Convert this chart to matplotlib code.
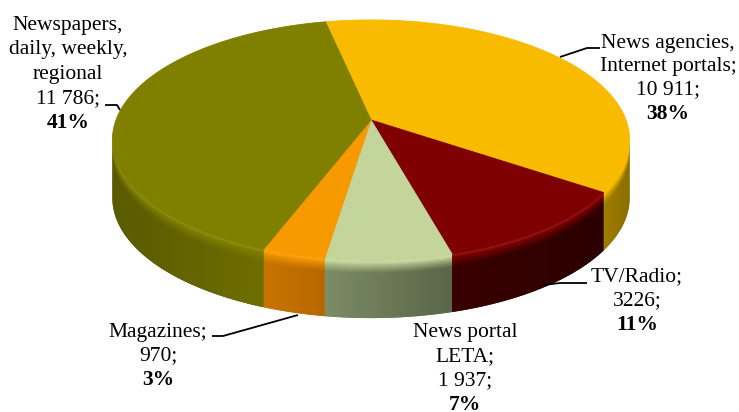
import numpy as np
import matplotlib
matplotlib.use("Agg")
import matplotlib.pyplot as plt
from matplotlib.colors import to_rgb

# ---- data (clockwise from the top of the pie) ----
names = ["News agencies,\nInternet portals;", "TV/Radio;", "News portal\nLETA;",
         "Magazines;", "Newspapers,\ndaily, weekly,\nregional"]
values = [10911, 3226, 1937, 970, 11786]
value_labels = ["10 911;", "3226;", "1 937;", "970;", "11 786;"]

# ---- styles ----
top_colors = ["#F8BB00", "#7F0000", "#C3D59A", "#F79900", "#808000"]
side_left = ["#A07E00", "#3A0000", "#7C8C66", "#C87400", "#5A5A00"]
side_right = ["#8C6E00", "#2C0000", "#5A6648", "#B66800", "#6E6E00"]

# label layout (pixel coords): centre x, first line centre y, line step
label_x = [668, 637, 465, 158, 68]
label_y0 = [43, 277, 332, 332, 25]
label_step = [23.5, 24, 24.5, 24, 24.5]
leaders = [[(560, 57), (587, 48), (600, 48)],
           [(543, 285), (560, 283), (587, 283)],
           None,
           [(298, 315), (223, 336), (212, 336)],
           [(105, 105), (117, 105), (120, 110)]]

W, H = 739, 412
fig = plt.figure(figsize=(W / 100, H / 100), dpi=100)
ax = fig.add_axes([0, 0, 1, 1])

# ---- perspective projection of the pie ----
cx, cy = 371, 120
sx, sy = 255, 248.7
elev = np.radians(28)
f = 5.3
depth = 58
start = -12.0


def proj(phi):
    r = np.radians(phi)
    u, v = np.sin(r), np.cos(r)
    k = f / (f + v * np.cos(elev))
    return cx + sx * u * k, cy - sy * v * np.sin(elev) * k


vals = np.array(values, dtype=float)
fracs = vals / vals.sum()
bounds = start + 360 * np.concatenate([[0], np.cumsum(fracs)])

grid = np.linspace(0, 360, 3601)
gx, _ = proj(grid)
phiR = grid[np.argmax(gx)]
phiL = grid[np.argmin(gx)]


def rgb(c):
    return np.array(to_rgb(c))


def lighten(c, a):
    c = rgb(c)
    return np.clip(c + (1 - c) * a, 0, 1)


# walls: gradient images clipped to each slice's wall polygon
for i in range(len(values)):
    a0, a1 = bounds[i], bounds[i + 1]
    lo, hi = max(a0, phiR), min(a1, phiL)
    if a0 + 360 < phiL:
        lo, hi = max(a0 + 360, phiR), min(a1 + 360, phiL)
    if hi <= lo:
        continue
    ph = np.linspace(lo, hi, 300)
    xs, ys = proj(ph)
    poly = list(zip(xs, ys)) + list(zip(xs[::-1], ys[::-1] + depth))
    patch = plt.Polygon(poly, closed=True, facecolor=side_left[i],
                        edgecolor="none", zorder=1)
    ax.add_patch(patch)

    x0, x1 = np.floor(xs.min()) - 1, np.ceil(xs.max()) + 1
    y0, y1 = np.floor(ys.min()) - 1, np.ceil(ys.max() + depth) + 1
    ncol, nrow = int((x1 - x0) * 2), int((y1 - y0) * 2)
    X = x0 + (np.arange(ncol) + 0.5) * (x1 - x0) / ncol
    Y = y0 + (np.arange(nrow) + 0.5) * (y1 - y0) / nrow
    order = np.argsort(xs)
    rim = np.interp(X, xs[order], ys[order])
    t = np.clip((xs.max() - X) / max(xs.max() - xs.min(), 1), 0, 1)
    base = rgb(side_right[i])[None, :] * (1 - t[:, None]) + rgb(side_left[i])[None, :] * t[:, None]
    d = Y[:, None] - rim[None, :]
    top = rgb(top_colors[i])
    hl = lighten(top_colors[i], 0.15)
    tb = np.clip((d - 3) / 10, 0, 1) ** 0.8
    th = np.clip(1 - d / 3, 0, 1)
    img = top[None, None, :] * (1 - tb[..., None]) + base[None, :, :] * tb[..., None]
    img = img * (1 - th[..., None]) + hl[None, None, :] * th[..., None]
    im = ax.imshow(np.clip(img, 0, 1), extent=(x0, x1, y1, y0), origin="upper",
                   interpolation="bilinear", aspect="auto", zorder=1.5)
    im.set_clip_path(patch)

# top faces
for i in range(len(values)):
    ph = np.linspace(bounds[i], bounds[i + 1], 200)
    xs, ys = proj(ph)
    pts = [(cx, cy)] + list(zip(xs, ys))
    ax.add_patch(plt.Polygon(pts, closed=True, facecolor=top_colors[i],
                             edgecolor=top_colors[i], linewidth=0.6, zorder=2))

# labels
font = "Liberation Serif"
for i in range(len(values)):
    lines = names[i].split("\n") + [value_labels[i]]
    pct = f"{round(fracs[i] * 100):d}%"
    y = label_y0[i]
    for ln in lines:
        ax.text(label_x[i], y, ln, ha="center", va="center", fontsize=15.5,
                family=font, color="black", zorder=4)
        y += label_step[i]
    ax.text(label_x[i], y, pct, ha="center", va="center", fontsize=15.5,
            family=font, weight="bold", color="black", zorder=4)
    if leaders[i] is not None:
        lx, ly = zip(*leaders[i])
        ax.plot(lx, ly, color="black", lw=1.3, zorder=3, solid_capstyle="butt")

ax.set_xlim(0, W)
ax.set_ylim(H, 0)
ax.axis("off")
fig.savefig("out.png", dpi=100)
